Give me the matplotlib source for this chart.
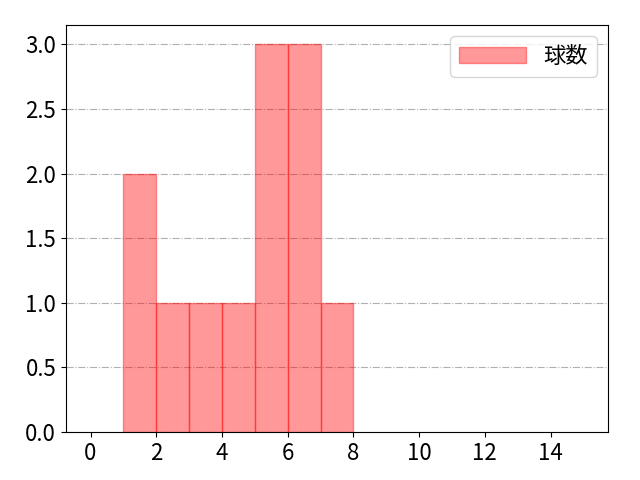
import matplotlib
matplotlib.use('Agg')
import matplotlib.pyplot as plt

plt.rcParams['font.family'] = ['Noto Sans CJK JP', 'DejaVu Sans']
plt.rcParams['font.size'] = 16

bins = [1, 2, 3, 4, 5, 6, 7]
counts = [2, 1, 1, 1, 3, 3, 1]
label = '球数'

fig, ax = plt.subplots(figsize=(6.4, 4.8), dpi=100)
ax.bar(bins, counts, width=1, align='edge', color='red', alpha=0.4,
       edgecolor='red', linewidth=1, label=label)
ax.set_xlim(-0.75, 15.75)
ax.set_ylim(0, 3.15)
ax.set_xticks(range(0, 16, 2))
ax.grid(axis='y', linestyle='-.')
ax.set_axisbelow(True)
ax.legend(loc='upper right', handlelength=3)
fig.subplots_adjust(left=0.103, right=0.95, top=0.948, bottom=0.1)
fig.savefig('out.png')
